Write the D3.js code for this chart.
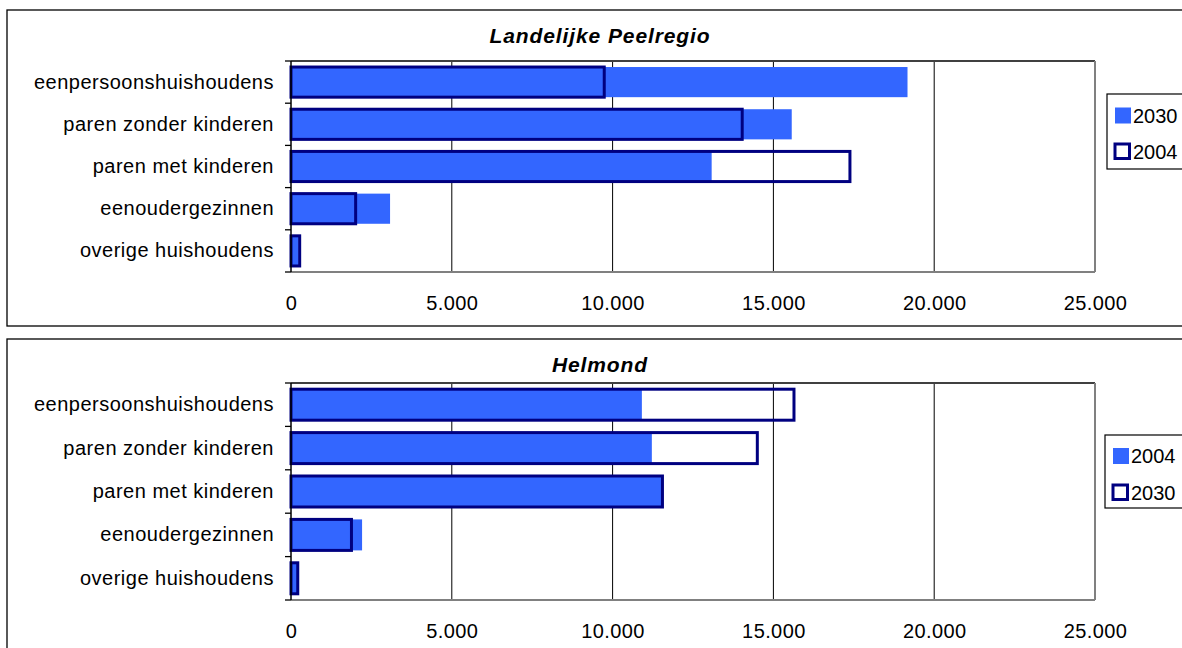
<!DOCTYPE html>
<html><head><meta charset="utf-8">
<script src="https://cdn.jsdelivr.net/npm/d3@7/dist/d3.min.js"></script>
<style>
html,body{margin:0;padding:0;background:#fff;}
svg text{font-family:"Liberation Sans",Arial,sans-serif;}
</style></head>
<body><svg id="c" width="1182" height="648"></svg>
<script>
const categories = ["eenpersoonshuishoudens","paren zonder kinderen","paren met kinderen","eenoudergezinnen","overige huishoudens"];
const xTicks = [0, 5000, 10000, 15000, 20000, 25000];
const peelTitle = "Landelijke Peelregio";
const peel2004 = [9740, 14030, 17380, 2010, 270];
const peel2030 = [19170, 15570, 13080, 3080, 240];
const helmondTitle = "Helmond";
const helmond2004 = [10910, 11220, 11550, 2210, 190];
const helmond2030 = [15640, 14500, 11550, 1880, 210];

const FILL = "#3366FF", NAVY = "#000080";
const loc = d3.formatLocale({decimal:",", thousands:".", grouping:[3], currency:["",""]});
const fmt = loc.format(",");
const svg = d3.select("#c");

function panel(cfg){
  const g = svg.append("g");
  g.append("rect").attr("x",cfg.box[0]).attr("y",cfg.box[1]).attr("width",cfg.box[2]).attr("height",cfg.box[3])
    .attr("fill","#fff").attr("stroke","#000").attr("stroke-width",1.3);
  const x = d3.scaleLinear().domain([0,25000]).range([cfg.px0,cfg.px1]);
  const y = d3.scaleBand().domain(categories).range([cfg.py0,cfg.py1]).padding(0);
  const bh = y.bandwidth()/1.4, off = (y.bandwidth()-bh)/2;
  // title
  g.append("text").attr("x",cfg.titleX).attr("y",cfg.titleY).attr("text-anchor","middle")
    .attr("font-size",21).attr("font-weight","bold").attr("font-style","italic").attr("letter-spacing",0.9)
    .text(cfg.title);
  // gridlines
  g.append("g").selectAll("line").data(xTicks.slice(1,-1)).join("line")
    .attr("x1",d=>x(d)).attr("x2",d=>x(d)).attr("y1",cfg.py0).attr("y2",cfg.py1)
    .attr("stroke","#000").attr("stroke-width",1);
  // plot area border
  g.append("line").attr("x1",cfg.px0).attr("x2",cfg.px1).attr("y1",cfg.py0).attr("y2",cfg.py0).attr("stroke","#404040").attr("stroke-width",2);
  g.append("line").attr("x1",cfg.px1).attr("x2",cfg.px1).attr("y1",cfg.py0).attr("y2",cfg.py1).attr("stroke","#808080").attr("stroke-width",2);
  g.append("line").attr("x1",cfg.px0).attr("x2",cfg.px1).attr("y1",cfg.py1).attr("y2",cfg.py1).attr("stroke","#808080").attr("stroke-width",2);
  // filled bars
  g.append("g").selectAll("rect").data(categories).join("rect")
    .attr("x",x(0)).attr("y",d=>y(d)+off).attr("height",bh)
    .attr("width",(d,i)=>x(cfg.fillVals[i])-x(0)).attr("fill",FILL);
  // outline bars
  g.append("g").selectAll("rect").data(categories).join("rect")
    .attr("x",x(0)).attr("y",d=>y(d)+off).attr("height",bh)
    .attr("width",(d,i)=>x(cfg.lineVals[i])-x(0)).attr("fill","none")
    .attr("stroke",NAVY).attr("stroke-width",3);
  // category axis
  const ya = g.append("g").attr("transform",`translate(${cfg.px0},0)`)
    .call(d3.axisLeft(y).tickSize(0).tickPadding(17));
  ya.select(".domain").remove();
  ya.selectAll("text").attr("font-size",20).attr("letter-spacing",0.5).attr("fill","#000").attr("font-family","Liberation Sans, Arial, sans-serif");
  g.append("line").attr("x1",cfg.px0).attr("x2",cfg.px0).attr("y1",cfg.py0).attr("y2",cfg.py1).attr("stroke","#000").attr("stroke-width",1.5);
  const bounds = categories.map(c=>y(c)).concat([y.range()[1]]);
  g.append("g").selectAll("line").data(bounds).join("line")
    .attr("x1",cfg.px0-6).attr("x2",cfg.px0).attr("y1",d=>d).attr("y2",d=>d)
    .attr("stroke","#000").attr("stroke-width",1.3);
  // value axis labels
  const xa = g.append("g").attr("transform",`translate(0,${cfg.py1})`)
    .call(d3.axisBottom(x).tickValues(xTicks).tickFormat(fmt).tickSize(0).tickPadding(24));
  xa.select(".domain").remove();
  xa.selectAll("text").attr("font-size",20).attr("letter-spacing",0.4).attr("fill","#000").attr("font-family","Liberation Sans, Arial, sans-serif");
  // legend
  const L = cfg.legend;
  g.append("rect").attr("x",L.x).attr("y",L.y).attr("width",120).attr("height",L.h)
    .attr("fill","#fff").attr("stroke","#000").attr("stroke-width",1.2);
  g.append("rect").attr("x",L.x+8).attr("y",L.y1-8).attr("width",16).attr("height",16).attr("fill",FILL);
  g.append("rect").attr("x",L.x+8).attr("y",L.y2-7.5).attr("width",14.5).attr("height",14.5)
    .attr("fill","#fff").attr("stroke",NAVY).attr("stroke-width",3);
  g.append("text").attr("x",L.x+26).attr("y",L.y1+7).attr("font-size",20).text(L.fillName);
  g.append("text").attr("x",L.x+26).attr("y",L.y2+7).attr("font-size",20).text(L.lineName);
}

panel({box:[7,10,1200,316], px0:291, px1:1095, py0:61, py1:272, title:peelTitle, titleX:600, titleY:43,
  fillVals:peel2030, lineVals:peel2004,
  legend:{x:1107, y:94, h:75, y1:115.5, y2:151.5, fillName:"2030", lineName:"2004"}});
panel({box:[7,339,1200,330], px0:291, px1:1095, py0:383, py1:600, title:helmondTitle, titleX:600, titleY:372,
  fillVals:helmond2004, lineVals:helmond2030,
  legend:{x:1105, y:435, h:73, y1:456, y2:492.5, fillName:"2004", lineName:"2030"}});
</script></body></html>
